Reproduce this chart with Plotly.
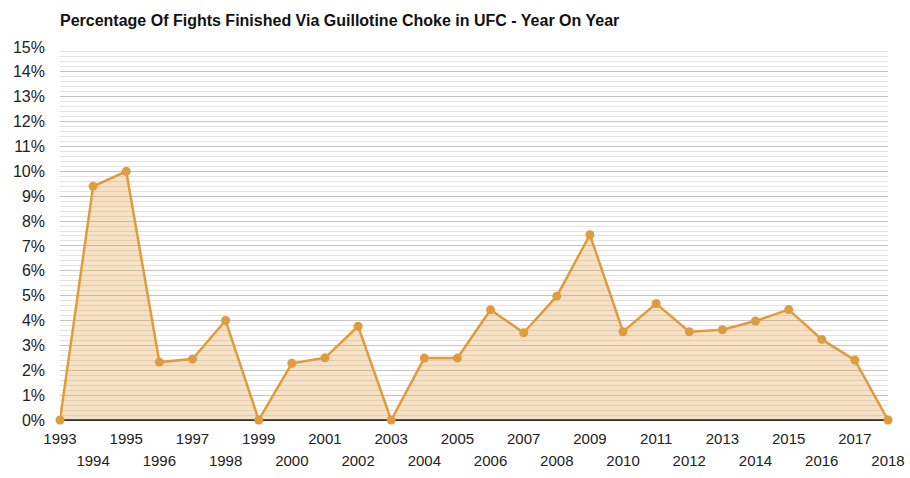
import plotly.graph_objects as go

years = list(range(1993, 2019))
pct = [0, 9.40, 10.0, 2.33, 2.45, 4.0, 0, 2.28, 2.5, 3.77, 0, 2.49, 2.49, 4.43, 3.51, 4.98,
       7.45, 3.55, 4.68, 3.55, 3.63, 3.98, 4.44, 3.24, 2.41, 0]
odd_years = years[0::2]
even_years = years[1::2]
y_ticks = list(range(0, 16))
y_text = [f"{v}%" for v in y_ticks]

line_color = "#E09B3D"

fig = go.Figure()
fig.add_trace(go.Scatter(
    x=years, y=pct, mode="lines+markers",
    line=dict(color=line_color, width=2.5),
    marker=dict(color=line_color, size=9),
    fill="tozeroy", fillcolor="rgba(224,155,61,0.3)",
    cliponaxis=False, hoverinfo="x+y",
))
# invisible twin trace so the second (even-year) label row is rendered
fig.add_trace(go.Scatter(
    x=years, y=pct, xaxis="x2", yaxis="y", mode="lines",
    opacity=0, hoverinfo="skip", showlegend=False,
))

common_x = dict(
    range=[1993, 2018], tickangle=0,
    showgrid=False, zeroline=False, showline=False, ticks="",
    tickfont=dict(size=15, color="#222"), fixedrange=True, automargin=False,
)

fig.update_layout(
    width=910, height=478,
    margin=dict(l=60, r=22, t=47, b=58),
    paper_bgcolor="white", plot_bgcolor="white",
    showlegend=False,
    font=dict(family="Liberation Sans, Arial, sans-serif", size=15, color="#222"),
    title=dict(
        text="<b>Percentage Of Fights Finished Via Guillotine Choke in UFC - Year On Year</b>",
        x=60/910, xanchor="left", y=1 - 20/478, yanchor="middle",
        font=dict(size=16, color="#111"),
    ),
    xaxis=dict(tickvals=odd_years, ticktext=[str(y) for y in odd_years],
               ticklabelstandoff=8, **common_x),
    xaxis2=dict(tickvals=even_years, ticktext=[str(y) for y in even_years],
                overlaying="x", side="bottom", anchor="y",
                ticklabelstandoff=30, **common_x),
    yaxis=dict(
        range=[0, 15], tickvals=y_ticks, ticktext=y_text,
        showgrid=True, gridcolor="#c4c4c4", gridwidth=1,
        minor=dict(dtick=0.2, showgrid=True, gridcolor="#e2e2e2", gridwidth=1),
        zeroline=True, zerolinecolor="#333", zerolinewidth=2,
        showline=False, ticks="", ticklabelstandoff=14,
        tickfont=dict(size=16, color="#222"), fixedrange=True, automargin=False,
    ),
)

fig.write_html("out.html")
